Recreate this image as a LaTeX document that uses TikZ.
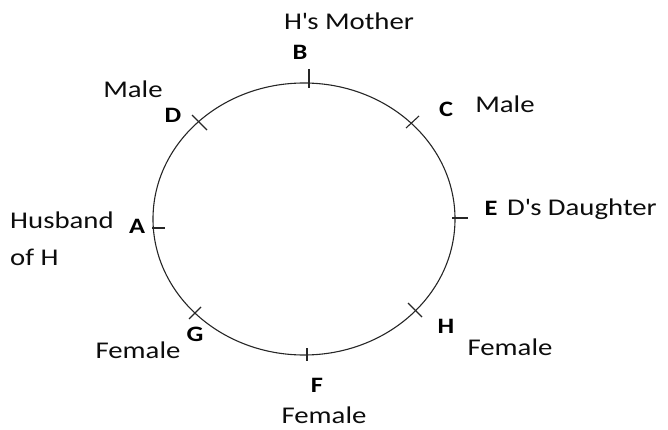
\documentclass[tikz,border=0pt]{standalone}
\usepackage{fontspec}
\setmainfont{Carlito}[FakeStretch=1.2]
\tikzset{
  seat/.style={line width=1.1pt,black!85},
  who/.style={inner sep=0pt,anchor=base,text=black!95,font=\fontsize{24}{28}\selectfont},
  lab/.style={inner sep=0pt,anchor=base,text=black,font=\fontsize{22}{24}\selectfont\bfseries}
}
\begin{document}
\begin{tikzpicture}[x=1pt,y=-1pt]
\useasboundingbox (0,0) rectangle (668,430);
% the round table
\draw[seat] (304,219) ellipse[x radius=151pt,y radius=136pt];
% seats
\draw[seat] (309,69)--(309,88);\draw[seat] (192,115)--(207,130);\draw[seat] (406,128)--(419,116);
\draw[seat] (152,228)--(165,228);\draw[seat] (452,218)--(468,218);
\draw[seat] (189,319)--(201,307);\draw[seat] (307,348)--(307,361);\draw[seat] (408,303)--(422,317);
% persons
\node[lab] (B) at (300,60){B};\node[who] (Bnote) at (349,30){H\textquotesingle s Mother};
\node[lab] (D) at (173,123){D};\node[who] (Dnote) at (133,98){Male};
\node[lab] (C) at (446,117){C};\node[who] (Cnote) at (505,113){Male};
\node[lab] (E) at (491,215){E};\node[who,anchor=base west] (Enote) at (507,215){D\textquotesingle s Daughter};
\node[lab] (A) at (137,233){A};\node[who,anchor=base west] (Anote) at (10,228){Husband};
\node[who,anchor=base west] (Anote2) at (10,265){of H};
\node[lab] (G) at (195,341){G};\node[who] (Gnote) at (138,358){Female};
\node[lab] (F) at (317,392){F};\node[who] (Fnote) at (324,423){Female};
\node[lab] (H) at (446,333){H};\node[who] (Hnote) at (510,355){Female};
\end{tikzpicture}
\end{document}
